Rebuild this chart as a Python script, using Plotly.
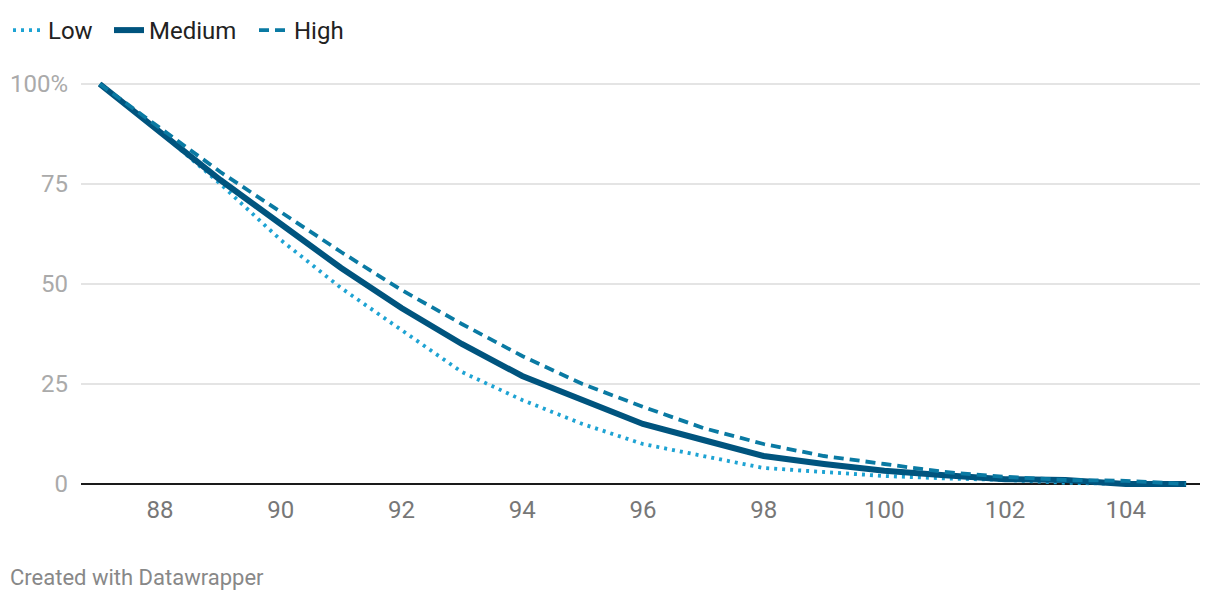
import plotly.graph_objects as go

# values
x_values = list(range(87, 106))
low = [100, 88, 75, 61, 49, 38.5, 28, 21, 15, 10, 7, 4, 3, 2, 1.4, 1, 0.3, 0, 0]
medium = [100, 88, 76, 65, 54, 44, 35, 27, 21, 15, 11, 7, 5, 3.3, 2.2, 1.2, 1, 0, 0]
high = [100, 89, 78, 68, 58, 48.5, 40, 32, 25, 19.3, 14, 10, 7, 5, 3, 1.8, 1, 0.8, 0]

y_ticks = [0, 25, 50, 75, 100]
y_tick_labels = ["0", "25", "50", "75", "100%"]
x_ticks = [88, 90, 92, 94, 96, 98, 100, 102, 104]

W, H = 1212, 592

fig = go.Figure()

fig.add_trace(go.Scatter(
    x=x_values, y=low, name="Low", mode="lines", legend="legend",
    line=dict(color="#1ea3d3", width=3.8, dash="3px,5px")
))
fig.add_trace(go.Scatter(
    x=x_values, y=medium, name="Medium", mode="lines", legend="legend2",
    line=dict(color="#00547e", width=6)
))
fig.add_trace(go.Scatter(
    x=x_values, y=high, name="High", mode="lines", legend="legend3",
    line=dict(color="#0a7aa3", width=3.8, dash="10px,6px")
))

def legend_at(px):
    return dict(
        orientation="h", xref="container", yref="container",
        x=px / W, y=1.0, xanchor="left", yanchor="top",
        font=dict(size=24, color="#222"), itemwidth=30,
        bgcolor="rgba(0,0,0,0)",
    )

fig.update_layout(
    width=W, height=H,
    margin=dict(l=73, r=20, t=72, b=112),
    paper_bgcolor="white", plot_bgcolor="white",
    font=dict(family="Roboto", size=24, color="#222"),
    showlegend=True,
    legend=legend_at(0),
    legend2=legend_at(101),
    legend3=legend_at(246),
    hovermode="x unified",
)

fig.update_xaxes(
    range=[86.69, 105.23], tickvals=x_ticks,
    showgrid=False, zeroline=False, showline=False,
    tickfont=dict(size=24, color="#777"),
    ticks="", ticklabelstandoff=5, automargin=False,
)

fig.update_yaxes(
    range=[-1, 101], tickvals=y_ticks, ticktext=y_tick_labels,
    showgrid=True, gridcolor="#e4e4e4", gridwidth=1.5,
    zeroline=True, zerolinecolor="#1a1a1a", zerolinewidth=2,
    showline=False,
    tickfont=dict(size=24, color="#aaaaaa"),
    ticks="", ticklabelstandoff=12, automargin=False,
)

fig.add_annotation(
    text="Created with Datawrapper", xref="paper", yref="paper",
    x=0, y=0, xshift=-73, yshift=-89, xanchor="left", yanchor="middle",
    showarrow=False, font=dict(size=22, color="#888888")
)

fig.write_html("out.html")
